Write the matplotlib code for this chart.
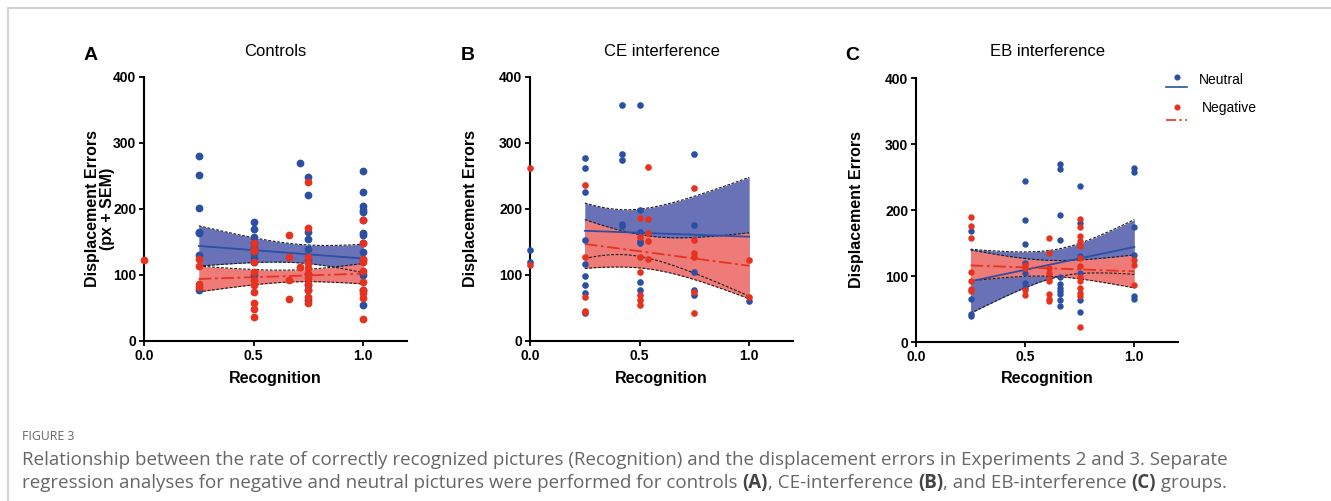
import numpy as np
import matplotlib
matplotlib.use("Agg")
import matplotlib.pyplot as plt
from matplotlib.lines import Line2D

# ---------------- data ----------------
panel_letters = ["A", "B", "C"]
panel_titles = ["Controls", "CE interference", "EB interference"]
ylabels = ["Displacement Errors\n(px + SEM)", "Displacement Errors", "Displacement Errors"]
xticks = [0.0, 0.5, 1.0]
xtick_labels = ["0.0", "0.5", "1.0"]
yticks = [0, 100, 200, 300, 400]

# Panel A (Controls)
a_neu_x = [0.25]*7 + [0.5]*9 + [0.71] + [0.75]*10 + [1.0]*14
a_neu_y = [280, 252, 201, 165, 163, 130, 77,
           181, 169, 158, 148, 141, 133, 126, 120, 100,
           270,
           249, 221, 165, 155, 140, 123, 102, 85, 77, 62,
           257, 226, 205, 199, 196, 184, 164, 160, 149, 135, 123, 100, 77, 55]
a_neg_x = [0.0] + [0.25]*4 + [0.5]*11 + [0.66]*4 + [0.71] + [0.75]*11 + [1.0]*10
a_neg_y = [123,
           125, 113, 86, 82,
           149, 140, 136, 119, 105, 92, 85, 74, 57, 49, 37,
           161, 127, 92, 63,
           112,
           241, 171, 128, 118, 110, 102, 95, 86, 77, 67, 58,
           183, 148, 125, 120, 106, 90, 77, 72, 65, 34]

# Panel B (CE interference)
b_neu_x = [0.0]*2 + [0.25]*9 + [0.42]*5 + [0.5]*7 + [0.75]*5 + [1.0]
b_neu_y = [138, 120,
           278, 262, 226, 153, 117, 99, 85, 72, 43,
           357, 283, 275, 178, 175,
           357, 199, 165, 151, 148, 90, 77,
           284, 176, 105, 77, 70,
           60]
b_neg_x = [0.0]*2 + [0.25]*5 + [0.5]*7 + [0.54]*5 + [0.75]*6 + [1.0]*2
b_neg_y = [262, 115,
           237, 128, 66, 46, 44,
           187, 158, 128, 105, 70, 62, 55,
           263, 185, 163, 151, 125,
           232, 153, 133, 128, 75, 42,
           123, 66]

# Panel C (EB interference)
c_neu_x = [0.25]*4 + [0.5]*7 + [0.66]*11 + [0.75]*6 + [1.0]*6
c_neu_y = [168, 65, 43, 39,
           244, 185, 149, 120, 105, 90, 82,
           270, 262, 192, 155, 99, 88, 82, 77, 72, 63, 54,
           237, 180, 131, 105, 64, 46,
           264, 257, 175, 132, 70, 65]
c_neg_x = [0.25]*7 + [0.5]*4 + [0.61]*9 + [0.75]*13 + [1.0]*3
c_neg_y = [190, 176, 157, 106, 92, 81, 78,
           116, 112, 79, 71,
           157, 135, 112, 105, 96, 92, 72, 65, 62,
           187, 175, 160, 153, 146, 127, 115, 99, 92, 82, 74, 69, 22,
           125, 116, 87]

# Regression fits:
# (line at x=0.25, line at x=1.0, CI half-width at 0.25, at 1.0, minimum half-width)
fit_range = [0.25, 1.0]
a_neu_fit = [144, 125, 30.5, 21.5, 14]
a_neg_fit = [94, 102, 19.5, 15.5, 9]
b_neu_fit = [167, 158, 42, 90, 34]
b_neg_fit = [147, 114, 37, 50, 25]
c_neu_fit = [92, 144, 48.5, 41.5, 21]
c_neg_fit = [116, 107, 23.5, 25, 12]

legend_labels = ["Neutral", "Negative"]

caption_head = "FIGURE 3"
caption_line1 = ("Relationship between the rate of correctly recognized pictures (Recognition) and the "
                 "displacement errors in Experiments 2 and 3. Separate")
caption_line2 = [("regression analyses for negative and neutral pictures were performed for controls ", "normal"),
                 ("(A)", "bold"), (", CE-interference ", "normal"), ("(B)", "bold"),
                 (", and EB-interference ", "normal"), ("(C)", "bold"), (" groups.", "normal")]

# ---------------- style ----------------
BLUE = "#2B4FA3"
RED = "#E6321F"
BLUE_BAND = "#6A72B7"
RED_BAND = "#EF7B79"
FONT = "Liberation Sans"

W, H = 1331, 501
fig = plt.figure(figsize=(W / 100, H / 100), dpi=100)
fig.patch.set_facecolor("white")


def fx(px):
    return px / W


def fy(py):
    return 1 - py / H


# frame
fig.add_artist(Line2D([fx(8), 1.0], [fy(7.5), fy(7.5)], transform=fig.transFigure,
                      color="#d2d2d2", lw=1.5))
fig.add_artist(Line2D([fx(8), fx(8)], [fy(7.5), 0.0], transform=fig.transFigure,
                      color="#d2d2d2", lw=1.5))

axes_px = [(144, 407, 77, 341), (530, 793, 77, 341), (916, 1178, 78, 342)]
title_y = [51, 51, 51]
letter_pos = [(91, 56), (468, 56), (852, 56)]
ylabel_x = [100, 471, 857]
ms_list = [5.6, 4.8, 4.6]

datasets = [
    (a_neu_x, a_neu_y, a_neg_x, a_neg_y, a_neu_fit, a_neg_fit),
    (b_neu_x, b_neu_y, b_neg_x, b_neg_y, b_neu_fit, b_neg_fit),
    (c_neu_x, c_neu_y, c_neg_x, c_neg_y, c_neu_fit, c_neg_fit),
]


def band(fit):
    y0, y1, h0, h1, hm = fit
    xa, xb = fit_range
    A = hm ** 2
    r = np.sqrt((h0 ** 2 - A) / (h1 ** 2 - A))
    x0 = (xa + r * xb) / (1 + r)
    B = (h0 ** 2 - A) / (x0 - xa) ** 2
    xs = np.linspace(xa, xb, 200)
    line = y0 + (y1 - y0) * (xs - xa) / (xb - xa)
    hw = np.sqrt(A + B * (xs - x0) ** 2)
    return xs, line, line - hw, line + hw


for i, (l, r, t, b) in enumerate(axes_px):
    ax = fig.add_axes([fx(l), fy(b), (r - l) / W, (b - t) / H])
    nx, ny, gx, gy, nfit, gfit = datasets[i]
    ax.set_xlim(0, 1.2)
    ax.set_ylim(0, 400)
    ax.set_facecolor("none")

    xs, ln, lo, hi = band(nfit)
    ax.fill_between(xs, lo, hi, color=BLUE_BAND, lw=0, zorder=1)
    xs2, ln2, lo2, hi2 = band(gfit)
    ax.fill_between(xs2, lo2, hi2, color=RED_BAND, lw=0, zorder=2)
    for yy in (lo, hi):
        ax.plot(xs, yy, color="#1a1a1a", lw=0.8, ls=(0, (2.5, 1.5)), zorder=3)
    for yy in (lo2, hi2):
        ax.plot(xs2, yy, color="#1a1a1a", lw=0.8, ls=(0, (2.5, 1.5)), zorder=3)
    ax.plot(xs, ln, color=BLUE, lw=1.3, zorder=4)
    ax.plot(xs2, ln2, color=RED, lw=1.3, ls=(0, (7, 2, 1.5, 2)), zorder=4)

    ax.plot(nx, ny, "o", ms=ms_list[i], color=BLUE, mec="none", zorder=5, clip_on=False)
    ax.plot(gx, gy, "o", ms=ms_list[i], color=RED, mec="none", zorder=6, clip_on=False)

    for side in ("top", "right"):
        ax.spines[side].set_visible(False)
    for side in ("left", "bottom"):
        ax.spines[side].set_linewidth(1.5)
        ax.spines[side].set_color("black")
    ax.set_xticks(xticks)
    ax.set_xticklabels(xtick_labels)
    ax.set_yticks(yticks)
    ax.tick_params(axis="both", direction="out", length=3.5, width=1.3, pad=2,
                   labelsize=10, colors="black")
    for lab in ax.get_xticklabels() + ax.get_yticklabels():
        lab.set_fontweight("bold")
        lab.set_fontfamily(FONT)

    cx = (l + r) / 2
    fig.text(fx(cx), fy(379), "Recognition", ha="center", va="center",
             fontsize=11.5, fontweight="bold", family=FONT)
    fig.text(fx(ylabel_x[i]), fy((t + b) / 2), ylabels[i], ha="center", va="center",
             rotation=90, fontsize=11.5, fontweight="bold", family=FONT,
             linespacing=1.05, multialignment="center")
    fig.text(fx(cx), fy(title_y[i]), panel_titles[i], ha="center", va="center",
             fontsize=12, family=FONT)
    fig.text(fx(letter_pos[i][0]), fy(letter_pos[i][1]), panel_letters[i],
             ha="center", va="center", fontsize=14, fontweight="bold", family=FONT)

# legend (outside panel C)
leg_items = [(BLUE, "-", 77, 87, 80), (RED, (0, (6, 2, 1.5, 2)), 107, 120, 108)]
for (col, ls, ydot, yline, ytext), lab, tx in zip(leg_items, legend_labels, [1199, 1202]):
    fig.add_artist(Line2D([fx(1176.5)], [fy(ydot)], transform=fig.transFigure, marker="o",
                          ms=4.4, color=col, mec="none", ls="none"))
    fig.add_artist(Line2D([fx(1166), fx(1187)], [fy(yline), fy(yline)],
                          transform=fig.transFigure, color=col, lw=1.2, ls=ls))
    fig.text(fx(tx), fy(ytext), lab, ha="left", va="center", fontsize=10, family=FONT)

# caption
CAP = "#666666"
CAPFONT = "Open Sans"
fig.text(fx(22), fy(436), caption_head, ha="left", va="center", fontsize=8.8,
         color=CAP, family=CAPFONT)
renderer = fig.canvas.get_renderer()
t1 = fig.text(fx(22), fy(460), caption_line1, ha="left", va="center", fontsize=10,
              color=CAP, family=CAPFONT)
w10 = t1.get_window_extent(renderer).width
cap_size = 10 * (1226 - 22) / w10
t1.set_fontsize(cap_size)

xcur = 22
for seg, wt in caption_line2:
    tt = fig.text(fx(xcur), fy(483), seg, ha="left", va="center", fontsize=cap_size,
                  color=CAP if wt == "normal" else "#444444", fontweight=wt, family=CAPFONT)
    xcur += tt.get_window_extent(renderer).width

fig.savefig("out.png", dpi=100, facecolor="white")
